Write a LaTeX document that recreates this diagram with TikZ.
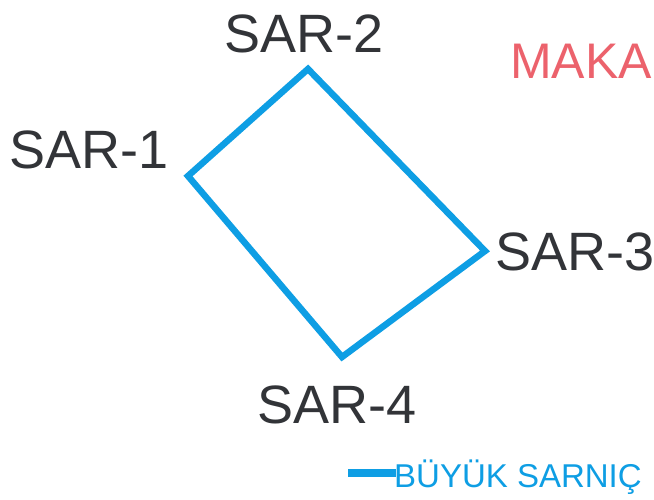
\documentclass[tikz,border=0pt]{standalone}
\usepackage{fontspec}
\setmainfont{Liberation Sans}
\definecolor{pipeblue}{RGB}{14,158,228}
\definecolor{labelgrey}{RGB}{50,52,56}
\definecolor{makared}{RGB}{236,98,108}
\tikzset{
  lbl/.style={inner sep=0pt, anchor=base west, text=labelgrey, font=\fontsize{54}{60}\selectfont},
  pipe/.style={draw=pipeblue, line width=6.5pt, line join=miter},
}
\begin{document}
\begin{tikzpicture}[x=1pt,y=-1pt]
\useasboundingbox (0,0) rectangle (654,499);
\clip (0,0) rectangle (654,499);
\fill[white] (0,0) rectangle (654,499);
% corners
\coordinate (c1) at (188,176);
\coordinate (c2) at (308,69);
\coordinate (c3) at (485,251);
\coordinate (c4) at (342,357);
\draw[pipe] (c1) -- (c2) -- (c3) -- (c4) -- cycle;
% labels
\node[lbl] (l2) at (224,52) {SAR-2};
\node[lbl] (l1) at (9,168) {SAR-1};
\node[lbl] (l3) at (495,270) {SAR-3};
\node[lbl] (l4) at (257,423) {SAR-4};
\node[inner sep=0pt, anchor=base west, text=makared, font=\fontsize{50}{56}\selectfont] (mk) at (510,78) {MAKA};
% legend
\coordinate (lg1) at (348,473);
\coordinate (lg2) at (396,473);
\draw[draw=pipeblue, line width=8pt] (lg1) -- (lg2);
\node[inner sep=0pt, anchor=base west, text=pipeblue, font=\fontsize{33}{38}\selectfont] (lgt) at (394,487) {BÜYÜK SARNIÇ};
\end{tikzpicture}
\end{document}
